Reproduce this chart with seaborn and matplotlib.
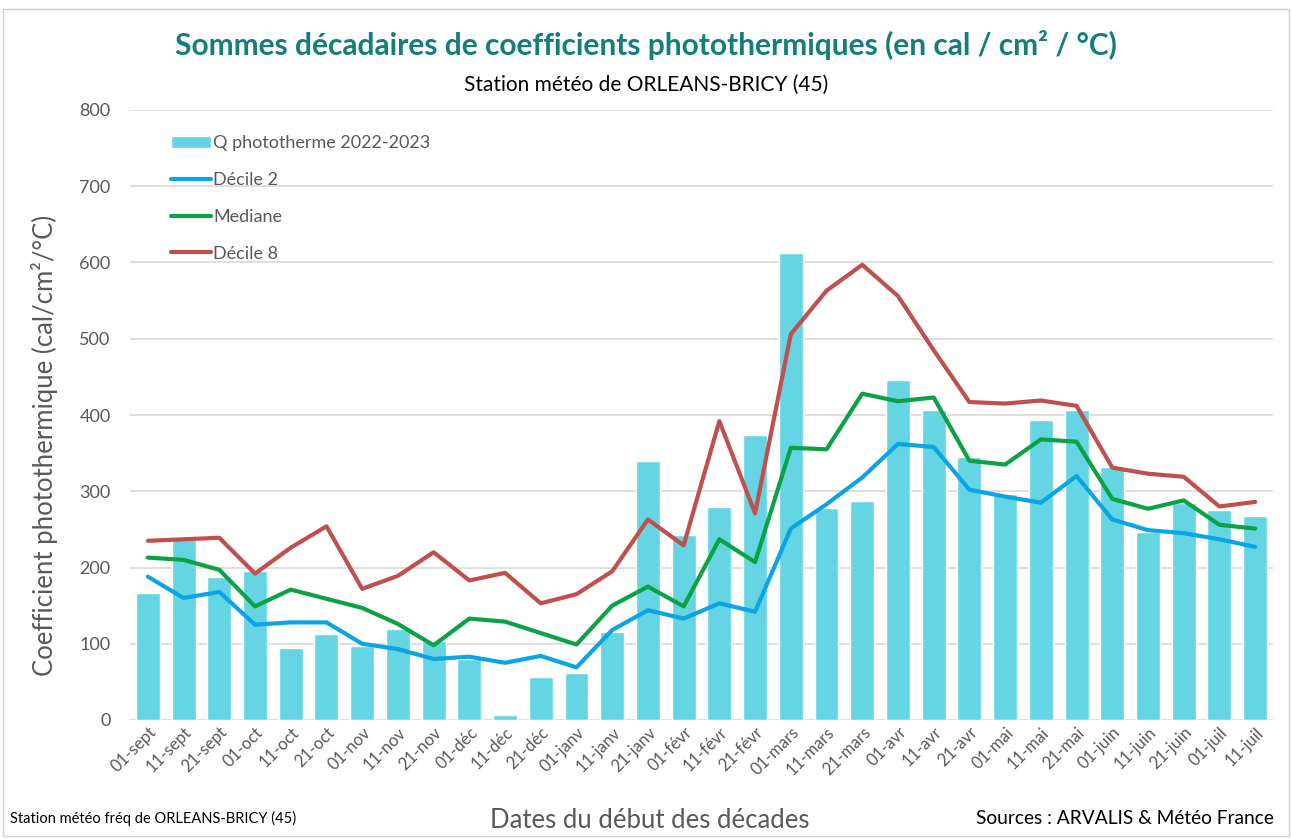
import numpy as np
import pandas as pd
import matplotlib
matplotlib.use('Agg')
import matplotlib.pyplot as plt
import seaborn as sns
from matplotlib.patches import Rectangle

# dates du debut des decades
decades = ['01-sept', '11-sept', '21-sept', '01-oct', '11-oct', '21-oct',
           '01-nov', '11-nov', '21-nov', '01-déc', '11-déc', '21-déc',
           '01-janv', '11-janv', '21-janv', '01-févr', '11-févr', '21-févr',
           '01-mars', '11-mars', '21-mars', '01-avr', '11-avr', '21-avr',
           '01-mai', '11-mai', '21-mai', '01-juin', '11-juin', '21-juin',
           '01-juil', '11-juil']

q_2022_2023 = [167, 237, 187, 195, 95, 113, 97, 119, 103, 80, 7, 56,
               62, 116, 340, 243, 279, 374, 612, 278, 287, 446, 407, 345,
               296, 393, 406, 332, 246, 285, 275, 268]

decile2 = [188, 160, 168, 125, 128, 128, 100, 93, 80, 83, 75, 84,
           69, 118, 144, 133, 153, 142, 251, 283, 318, 362, 358, 302,
           293, 285, 320, 263, 249, 245, 237, 227]

mediane = [213, 210, 197, 149, 171, 159, 147, 126, 98, 133, 129, 114,
           99, 150, 175, 149, 237, 207, 357, 355, 428, 418, 423, 340,
           335, 368, 365, 290, 277, 288, 256, 251]

decile8 = [235, 237, 239, 192, 226, 254, 172, 189, 220, 183, 193, 153,
           165, 195, 263, 229, 392, 271, 506, 563, 597, 556, 485, 417,
           415, 419, 412, 331, 323, 319, 280, 286]

df = pd.DataFrame({'decade': decades, 'q': q_2022_2023,
                   'd2': decile2, 'med': mediane, 'd8': decile8})

sns.set_style('white')
plt.rcParams['font.family'] = ['Lato', 'DejaVu Sans']
grey = '#595959'

fig = plt.figure(figsize=(12.92, 8.39), dpi=100)
ax = fig.add_axes([130 / 1292, 1 - 720 / 839, 1143 / 1292, 610 / 839])

sns.barplot(data=df, x='decade', y='q', color='#65D5E4', saturation=1,
            width=0.67, ax=ax, label='Q phototherme 2022-2023', zorder=2)
sns.lineplot(data=df, x='decade', y='d2', color='#0AA5E6', lw=3,
             sort=False, ax=ax, label='Décile 2', zorder=3)
sns.lineplot(data=df, x='decade', y='med', color='#0BA243', lw=3,
             sort=False, ax=ax, label='Mediane', zorder=3)
sns.lineplot(data=df, x='decade', y='d8', color='#C0504D', lw=3,
             sort=False, ax=ax, label='Décile 8', zorder=3)

ax.set_xlim(-0.5, len(decades) - 0.5)
ax.set_ylim(0, 800)
ax.set_yticks(range(0, 801, 100))
ax.yaxis.grid(True, color='#D9D9D9', lw=1.2, zorder=0)
ax.set_axisbelow(True)
sns.despine(ax=ax, left=True, bottom=True)
ax.tick_params(axis='y', labelsize=13, colors=grey, length=0, pad=14)
ax.tick_params(axis='x', labelsize=12, colors=grey, length=0, pad=3)
plt.setp(ax.get_xticklabels(), rotation=45, ha='right', rotation_mode='anchor')
ax.set_xlabel('')
ax.set_ylabel('Coefficient photothermique (cal/cm²/°C)', fontsize=18.5,
              color=grey)
ax.yaxis.set_label_coords(-72 / 1143, (720 - 445) / 610)

# bar first in the legend, like the original
h, l = ax.get_legend_handles_labels()
order = [l.index('Q phototherme 2022-2023'), l.index('Décile 2'),
         l.index('Mediane'), l.index('Décile 8')]
ax.legend([h[i] for i in order], [l[i] for i in order],
          loc='upper left', bbox_to_anchor=(0.022, 0.985), frameon=False,
          fontsize=13, labelcolor=grey, handlelength=2.2,
          handletextpad=0.1, labelspacing=1.15)

fig.text(0.5, 1 - 45 / 839, 'Sommes décadaires de coefficients photothermiques (en cal / cm² / °C)',
         ha='center', va='center', fontsize=21.5, fontweight='bold', color='#127F7C')
fig.text(0.5, 1 - 85 / 839, 'Station météo de ORLEANS-BRICY (45)',
         ha='center', va='center', fontsize=15, color='black')
fig.text(650 / 1292, 1 - 820 / 839, 'Dates du début des décades',
         ha='center', va='center', fontsize=18.5, color=grey)
fig.text(10 / 1292, 1 - 818 / 839, 'Station météo fréq de ORLEANS-BRICY (45)',
         ha='left', va='center', fontsize=10.5, color='black')
fig.text(1274 / 1292, 1 - 818 / 839, 'Sources : ARVALIS & Météo France',
         ha='right', va='center', fontsize=13.8, color='black')

fig.patches.append(Rectangle((3 / 1292, 3 / 839), 1 - 6 / 1292, 1 - 12 / 839,
                             transform=fig.transFigure, fill=False,
                             edgecolor='#D0D0D0', lw=1))

fig.savefig('out.png', dpi=100)
